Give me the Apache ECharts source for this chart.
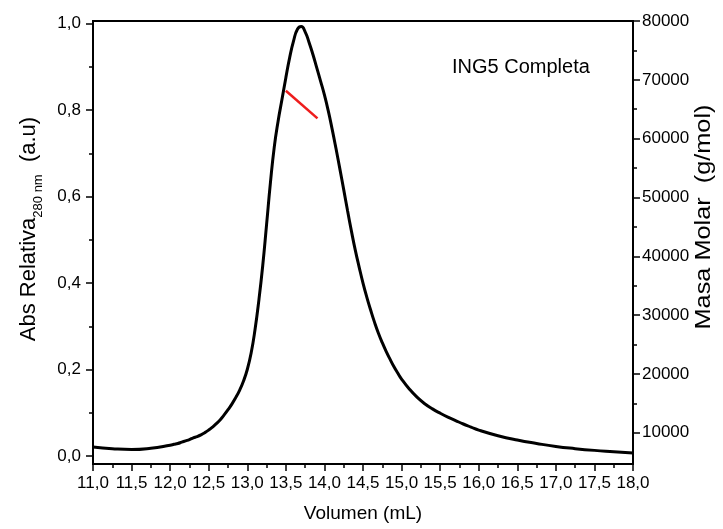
<!DOCTYPE html>
<html>
<head>
<meta charset="utf-8">
<script src="https://cdn.jsdelivr.net/npm/echarts@6/dist/echarts.min.js"></script>
<style>html,body{margin:0;padding:0;background:#fff;}#c{width:723px;height:529px;}</style>
</head>
<body>
<div id="c"></div>
<script>
// ---- data ----
const volume = [11.0, 11.25, 11.5, 11.75, 12.0, 12.05, 12.1, 12.15, 12.2, 12.25, 12.3, 12.35, 12.4, 12.45, 12.5, 12.55, 12.6, 12.65, 12.7, 12.75, 12.8, 12.85, 12.9, 12.95, 13.0, 13.05, 13.1, 13.15, 13.2, 13.25, 13.3, 13.35, 13.4, 13.45, 13.5, 13.55, 13.6, 13.65, 13.7, 13.75, 13.8, 13.85, 13.9, 13.95, 14.0, 14.05, 14.1, 14.15, 14.2, 14.25, 14.3, 14.35, 14.4, 14.45, 14.5, 14.55, 14.6, 14.65, 14.7, 14.75, 14.8, 14.85, 14.9, 14.95, 15.0, 15.1, 15.2, 15.3, 15.4, 15.5, 15.6, 15.7, 15.8, 15.9, 16.0, 16.25, 16.5, 16.75, 17.0, 17.25, 17.5, 17.75, 18.0];
const absRel = [0.021, 0.017, 0.015, 0.018, 0.025, 0.027, 0.029, 0.032, 0.035, 0.038, 0.042, 0.045, 0.049, 0.054, 0.060, 0.067, 0.075, 0.084, 0.095, 0.107, 0.120, 0.135, 0.152, 0.173, 0.200, 0.238, 0.292, 0.360, 0.440, 0.535, 0.632, 0.715, 0.775, 0.825, 0.875, 0.922, 0.960, 0.987, 0.993, 0.981, 0.957, 0.929, 0.898, 0.867, 0.835, 0.798, 0.756, 0.711, 0.664, 0.616, 0.567, 0.520, 0.476, 0.437, 0.400, 0.367, 0.337, 0.309, 0.284, 0.262, 0.242, 0.224, 0.207, 0.192, 0.178, 0.155, 0.136, 0.121, 0.109, 0.099, 0.090, 0.082, 0.074, 0.067, 0.060, 0.047, 0.037, 0.029, 0.022, 0.017, 0.013, 0.010, 0.007];
const molVolume = [13.5, 13.91];
const molMass = [68150, 63450];
const leftTicks = [0, 0.2, 0.4, 0.6, 0.8, 1.0];
const leftMinorTicks = [0.1, 0.3, 0.5, 0.7, 0.9];
const rightTicks = [10000, 20000, 30000, 40000, 50000, 60000, 70000, 80000];
const rightMinorTicks = [15000, 25000, 35000, 45000, 55000, 65000, 75000];
const sampleLabel = 'ING5 Completa';

const FONT = '"Liberation Sans", Arial, sans-serif';
const chart = echarts.init(document.getElementById('c'), null, {renderer: 'canvas'});
const comma = v => v.toFixed(1).replace('.', ',');
const yLeftMin = -0.0185, yLeftMax = 1.006;
const yRightMin = 4680, yRightMax = 80000;

function yAx(extra) {
  return Object.assign({
    type: 'value',
    splitLine: {show: false},
    minorSplitLine: {show: false},
    axisLine: {show: true, onZero: false, lineStyle: {color: '#000', width: 2}},
  }, extra);
}

const option = {
  animation: false,
  backgroundColor: '#fff',
  grid: {left: 93, right: 90, top: 21, bottom: 65, show: true, borderColor: '#000', borderWidth: 2, outerBoundsMode: 'none'},
  xAxis: [{
    type: 'value', min: 11, max: 18, interval: 0.5, position: 'bottom',
    name: 'Volumen (mL)', nameLocation: 'middle', nameGap: 40,
    nameTextStyle: {fontSize: 19, color: '#000', fontFamily: FONT},
    axisLine: {show: true, onZero: false, lineStyle: {color: '#000', width: 2}},
    axisTick: {show: true, length: 7, lineStyle: {color: '#000', width: 1.5}},
    minorTick: {show: true, splitNumber: 2, length: 4, lineStyle: {color: '#000', width: 1.5}},
    splitLine: {show: false}, minorSplitLine: {show: false},
    axisLabel: {margin: 11, fontSize: 17, color: '#000', fontFamily: FONT, formatter: comma}
  }],
  yAxis: [
    yAx({position: 'left', min: yLeftMin, max: yLeftMax,
      axisTick: {show: true, length: 7, customValues: leftTicks, lineStyle: {color: '#000', width: 1.5}},
      axisLabel: {margin: 12, fontSize: 17, color: '#000', fontFamily: FONT, customValues: leftTicks, formatter: comma}}),
    yAx({position: 'right', min: yRightMin, max: yRightMax,
      axisTick: {show: true, length: 7, customValues: rightTicks, lineStyle: {color: '#000', width: 1.5}},
      axisLabel: {margin: 9, fontSize: 17, color: '#000', fontFamily: FONT, customValues: rightTicks, formatter: v => String(v)}}),
    yAx({position: 'right', min: yRightMin, max: yRightMax,
      axisLine: {show: false},
      axisTick: {show: true, length: 4, customValues: rightMinorTicks, lineStyle: {color: '#000', width: 1.5}},
      axisLabel: {show: false}}),
    yAx({position: 'left', min: yLeftMin, max: yLeftMax,
      axisLine: {show: false},
      axisTick: {show: true, length: 4, customValues: leftMinorTicks, lineStyle: {color: '#000', width: 1.5}},
      axisLabel: {show: false}})
  ],
  series: [
    {type: 'line', yAxisIndex: 0, data: volume.map((v, i) => [v, absRel[i]]),
     showSymbol: false, smooth: 0.5, lineStyle: {color: '#000', width: 3}, itemStyle: {color: '#000'}},
    {type: 'line', yAxisIndex: 1, data: molVolume.map((v, i) => [v, molMass[i]]),
     showSymbol: false, lineStyle: {color: '#ee1d1d', width: 2.5}, itemStyle: {color: '#ee1d1d'}}
  ],
  graphic: [
    {type: 'text', x: 452, y: 67, style: {text: sampleLabel, fontSize: 20, fontFamily: FONT, fill: '#000', align: 'left', verticalAlign: 'middle'}},
    {type: 'text', x: 29, y: 229, rotation: Math.PI / 2,
     style: {text: '{a|Abs Relativa}{s|280 nm}{a|  (a.u)}', align: 'center', verticalAlign: 'middle',
       rich: {a: {fontSize: 22, fontFamily: FONT, fill: '#000'}, s: {fontSize: 13, fontFamily: FONT, fill: '#000', padding: [18, 0, 0, 0]}}}},
    {type: 'text', x: 704, y: 217, rotation: Math.PI / 2, scaleX: 1.15,
     style: {text: 'Masa Molar  (g/mol)', fontSize: 22, fontFamily: FONT, fill: '#000', align: 'center', verticalAlign: 'middle'}}
  ]
};
chart.setOption(option);
</script>
</body>
</html>
